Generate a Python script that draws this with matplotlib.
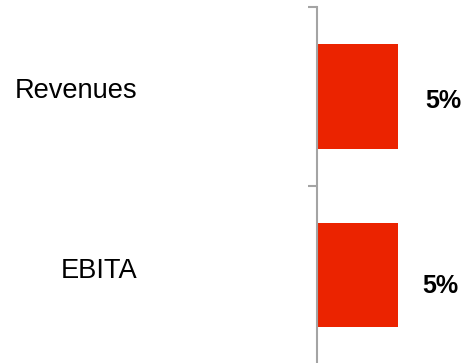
import matplotlib
matplotlib.use("Agg")
import matplotlib.pyplot as plt

# growth by metric
categories = ["Revenues", "EBITA"]
growth = [5, 5]
value_labels = ["5%", "5%"]

plt.rcParams["font.family"] = ["Liberation Sans", "DejaVu Sans"]

BAR_RED = "#EB2300"
AXIS_GREY = "#A4A4A4"

fig = plt.figure(figsize=(4.65, 3.63), dpi=100)
# axis runs to the bottom edge, so the last boundary tick falls off the canvas
ax = fig.add_axes([317 / 465, -1.5 / 363, 148 / 465, 1 - 5.5 / 363])

ypos = list(range(len(categories)))
ax.barh(ypos, growth, height=0.585, color=BAR_RED, edgecolor="none")

ax.set_ylim(len(categories) - 0.5, -0.5)
ax.set_xlim(0, 5 * 148 / 81)

# per-row nudges of the text, in pixels
val_dx = [27, 24]
val_dy = [-12, -17.5]
cat_dy = [-2, -2.5]

for y, v, lab, dx, dy in zip(ypos, growth, value_labels, val_dx, val_dy):
    ax.annotate(lab, xy=(v, y), xytext=(dx, dy), textcoords="offset pixels",
                ha="left", va="baseline", fontsize=18, fontweight="bold")
for y, name, dy in zip(ypos, categories, cat_dy):
    ax.annotate(name, xy=(0, y), xytext=(-180, dy), textcoords="offset pixels",
                ha="right", va="baseline", fontsize=19.6, annotation_clip=False)

# boundary ticks between rows
ax.set_yticks([i - 0.5 for i in range(len(categories) + 1)])
ax.set_yticklabels([])
ax.tick_params(axis="y", direction="out", length=6.5, width=1.5, color=AXIS_GREY)
ax.set_xticks([])
for s in ["top", "right", "bottom"]:
    ax.spines[s].set_visible(False)
ax.spines["left"].set_color(AXIS_GREY)
ax.spines["left"].set_linewidth(1.5)
ax.patch.set_visible(False)

fig.savefig("out.png", dpi=100, facecolor="white")
